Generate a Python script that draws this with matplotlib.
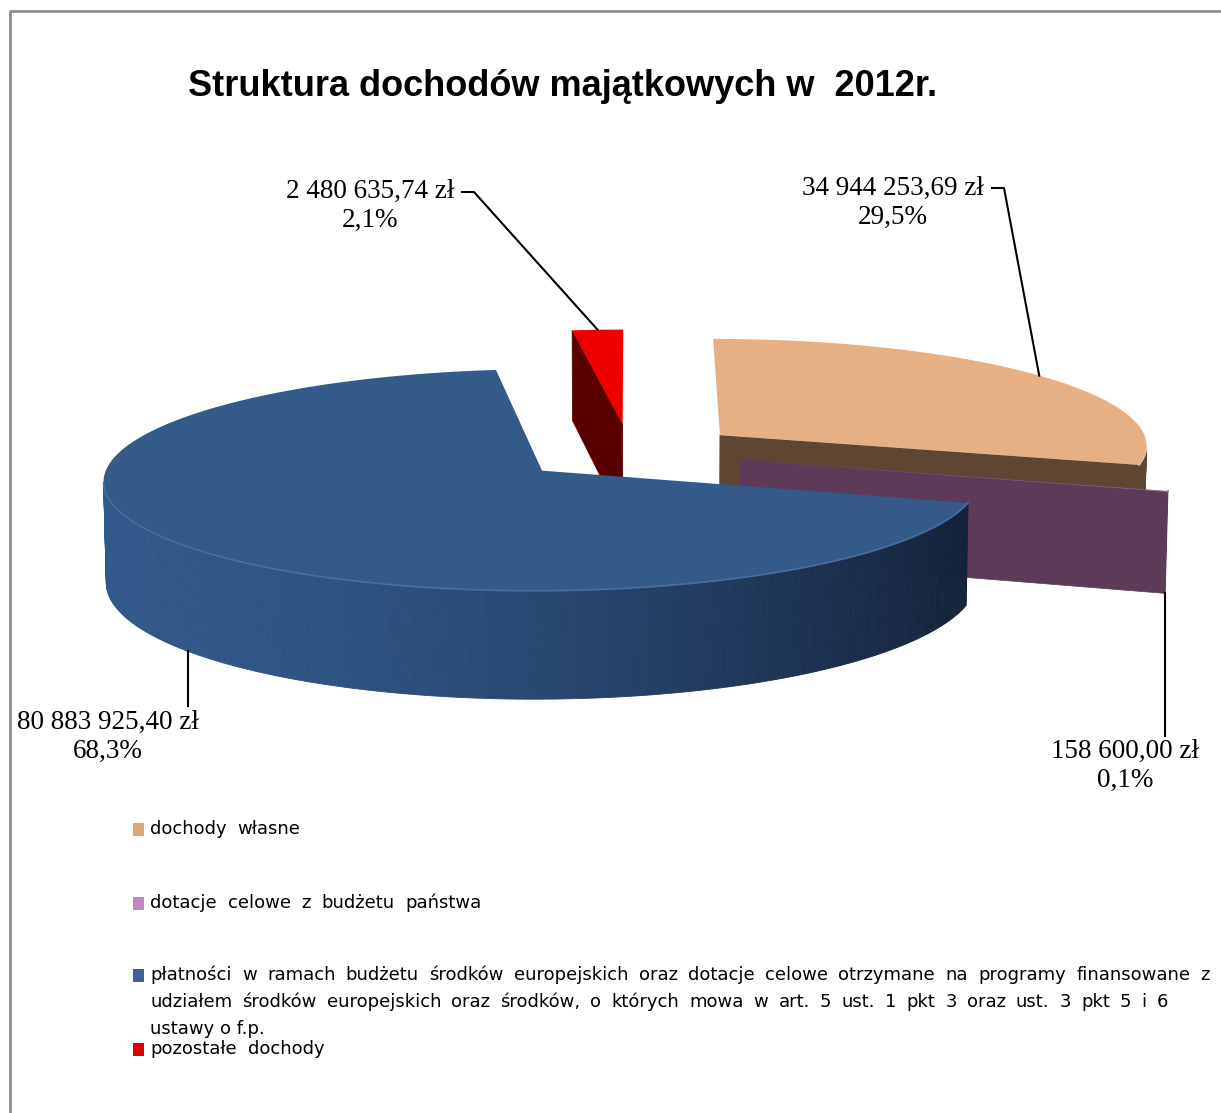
import numpy as np
import matplotlib.pyplot as plt
from matplotlib.patches import Polygon, Rectangle
from matplotlib.colors import to_rgb

# data
categories = ['dochody własne',
              'dotacje celowe z budżetu państwa',
              'płatności w ramach budżetu środków europejskich oraz dotacje celowe otrzymane na programy finansowane z\n'
              'udziałem środków europejskich oraz środków, o których mowa w art. 5 ust. 1 pkt 3 oraz ust. 3 pkt 5 i 6\n'
              'ustawy o f.p.',
              'pozostałe dochody']
amounts = [34944253.69, 158600.00, 80883925.40, 2480635.74]
amount_labels = ['34 944 253,69 zł', '158 600,00 zł', '80 883 925,40 zł', '2 480 635,74 zł']

top_colors = ['#E6AF84', '#8B5C8A', '#335A88', '#EE0000']
side_colors = [('#654C37', '#5E4632'), ('#5C3A58', '#5C3A58'),
               ('#31588A', '#14223A'), ('#650000', '#5A0000')]
edge_colors = ['#EDBE98', '#9A6A99', '#4670A3', '#FF3030']
legend_colors = ['#DFA678', '#C484C8', '#3A6399', '#DD0000']

# label layout (pixel positions of text centres and leader starts)
label_pos = [(893, 203), (1125, 766), (108, 737), (370, 206)]
leader_start = [(992, 188), (None, 736), (None, 706), (462, 192)]

# legend layout: text line widths in pixels (None = natural)
legend_y = [829, 903, 975, 1049]
legend_widths = [[150], [332], [1060, 1018, None], [175]]
LINE_STEP = 27

# pie geometry
W, H = 1221, 1113
CX, CY = 630, 452
SCALE = 430
ELEV = np.radians(14.4)
DIST = 11.7
DEPTH = 0.238
EXPLODE = 0.265
CAM = np.array([0.0, -DIST * np.cos(ELEV), DIST * np.sin(ELEV)])


def project(x, y, z):
    zc = y * np.cos(ELEV) - z * np.sin(ELEV) + DIST
    sx = DIST * x / zc
    sy = DIST * (y * np.sin(ELEV) + z * np.cos(ELEV)) / zc
    return CX + SCALE * sx, CY - SCALE * sy


def visible(px, py, nx, ny):
    return nx * (CAM[0] - px) + ny * (CAM[1] - py) > 0


def mix(c1, c2, f):
    a, b = np.array(to_rgb(c1)), np.array(to_rgb(c2))
    return tuple(a + (b - a) * np.clip(f, 0, 1))


fig = plt.figure(figsize=(W / 100, H / 100), dpi=100)
ax = fig.add_axes([0, 0, 1, 1])
ax.set_xlim(0, W)
ax.set_ylim(H, 0)
ax.axis('off')

# frame
ax.plot([10, 10, W], [H, 11, 11], color='#8C8C8C', lw=2, solid_capstyle='butt')

vals = np.array(amounts)
fracs = vals / vals.sum()
bounds = np.concatenate([[0], np.cumsum(fracs) * 360])

slices = []
for i in range(len(vals)):
    a0, a1 = bounds[i], bounds[i + 1]
    mid = np.radians((a0 + a1) / 2)
    ox, oy = EXPLODE * np.sin(mid), EXPLODE * np.cos(mid)
    slices.append((oy, i, a0, a1, ox))

leader_end = {}
for oy, i, a0, a1, ox in sorted(slices, reverse=True):
    # radial faces
    for ang, sign in ((a0, -1), (a1, 1)):
        t = np.radians(ang)
        nx, ny = sign * np.cos(t), -sign * np.sin(t)
        if visible(ox, oy, nx, ny) and abs(np.sin(t)) > 1e-3:
            pts = [project(ox, oy, 0), project(ox + np.sin(t), oy + np.cos(t), 0),
                   project(ox + np.sin(t), oy + np.cos(t), -DEPTH), project(ox, oy, -DEPTH)]
            ax.add_patch(Polygon(pts, closed=True, fc=side_colors[i][1], ec=side_colors[i][1], lw=0.5))
    # outer rim
    ts = np.linspace(a0, a1, max(int((a1 - a0) * 2), 2))
    rim_top = []
    for t1, t2 in zip(ts[:-1], ts[1:]):
        tm = np.radians((t1 + t2) / 2)
        if not visible(ox + np.sin(tm), oy + np.cos(tm), np.sin(tm), np.cos(tm)):
            continue
        r1, r2 = np.radians(t1), np.radians(t2)
        pts = [project(ox + np.sin(r1), oy + np.cos(r1), 0), project(ox + np.sin(r2), oy + np.cos(r2), 0),
               project(ox + np.sin(r2), oy + np.cos(r2), -DEPTH), project(ox + np.sin(r1), oy + np.cos(r1), -DEPTH)]
        rim_top += pts[:2]
        xm = np.mean([p[0] for p in pts])
        f = np.clip((xm - 100) / 870, 0, 1) ** 1.7
        c = mix(side_colors[i][0], side_colors[i][1], f)
        ax.add_patch(Polygon(pts, closed=True, fc=c, ec=c, lw=0.6))
    # top face
    ts = np.radians(np.linspace(a0, a1, max(int((a1 - a0) * 2), 2)))
    pts = [project(ox, oy, 0)] + [project(ox + np.sin(t), oy + np.cos(t), 0) for t in ts]
    ax.add_patch(Polygon(pts, closed=True, fc=top_colors[i], ec='none'))
    if rim_top:
        ax.plot([p[0] for p in rim_top], [p[1] for p in rim_top], color=edge_colors[i], lw=1.2)
    mid = np.radians((a0 + a1) / 2)
    z = 0 if np.cos(mid) > 0 else -DEPTH
    leader_end[i] = project(ox + np.sin(mid), oy + np.cos(mid), z)

# data labels and leader lines
for i in range(len(vals)):
    pct = f'{fracs[i] * 100:.1f}%'.replace('.', ',')
    ax.text(label_pos[i][0], label_pos[i][1], f'{amount_labels[i]}\n{pct}',
            ha='center', va='center', fontsize=19.5, family='Liberation Serif',
            linespacing=1.2, color='black')
    ex, ey = leader_end[i]
    sx, sy = leader_start[i]
    if sx is None:
        ax.plot([ex, ex], [sy, ey], color='black', lw=1.5)
    else:
        ax.plot([sx, sx + 12, ex], [sy, sy, ey], color='black', lw=1.5)

ax.text(563, 86, 'Struktura dochodów majątkowych w  2012r.', ha='center', va='center',
        fontsize=26, fontweight='bold', family='Liberation Sans')

# legend with justified lines
renderer = fig.canvas.get_renderer()
for i, cat in enumerate(categories):
    ax.add_patch(Rectangle((133, legend_y[i] - 6), 11, 13, fc=legend_colors[i], ec='none'))
    for k, line in enumerate(cat.split('\n')):
        y = legend_y[i] + k * LINE_STEP
        words = line.split(' ')
        target = legend_widths[i][k]
        if target is None or len(words) < 2:
            ax.text(150, y, line, ha='left', va='center', fontsize=13, family='DejaVu Sans')
            continue
        items = [ax.text(0, y, w, ha='left', va='center', fontsize=13, family='DejaVu Sans')
                 for w in words]
        inv = ax.transData.inverted()
        widths = []
        for t in items:
            bb = t.get_window_extent(renderer)
            p0 = inv.transform((bb.x0, bb.y0))
            p1 = inv.transform((bb.x1, bb.y0))
            widths.append(p1[0] - p0[0])
        gap = (target - sum(widths)) / (len(words) - 1)
        x = 150
        for t, w in zip(items, widths):
            t.set_x(x)
            x += w + gap

fig.savefig('out.png', dpi=100)
